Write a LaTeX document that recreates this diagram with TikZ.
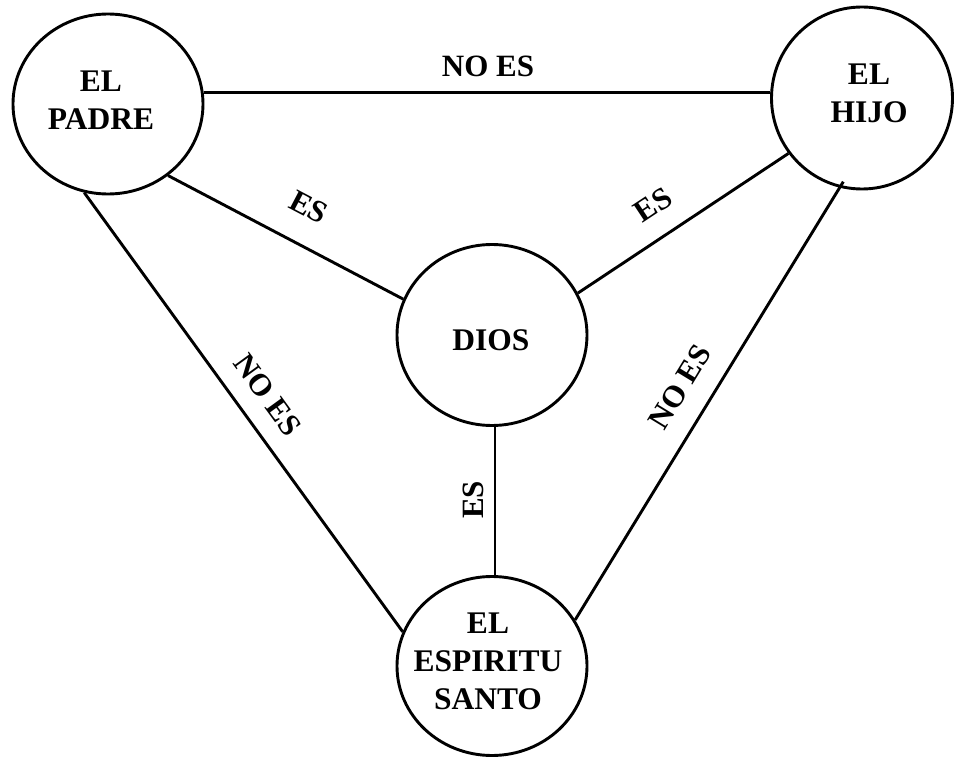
\documentclass[tikz,border=0pt]{standalone}
\usepackage{fontspec}
\setmainfont{Liberation Serif}
\usetikzlibrary{shapes.geometric}
\begin{document}
\begin{tikzpicture}[x=1pt,y=-1pt,
  persona/.style={draw, ellipse, line width=2.9pt, inner sep=0pt},
  nombre/.style={font=\bfseries\fontsize{31.5}{38}\selectfont, align=center, inner sep=0pt},
  enlace/.style={line width=2.9pt},
  rel/.style={font=\bfseries\fontsize{31}{38}\selectfont, inner sep=0pt}]
\useasboundingbox (0,0) rectangle (954,757);
\fill[white] (0,0) rectangle (954,757);

% the four persons / concepts
\node[persona, minimum width=190pt, minimum height=180pt,
      label={[nombre, xshift=-7pt, yshift=4pt]center:EL\\PADRE}] (padre) at (108,104) {};
\node[persona, minimum width=181pt, minimum height=182pt,
      label={[nombre, xshift=7pt, yshift=5pt]center:EL\\HIJO}] (hijo) at (862,98) {};
\node[persona, minimum width=190pt, minimum height=181pt,
      label={[nombre, xshift=-1pt, yshift=-5pt]center:DIOS}] (dios) at (492,335) {};
\node[persona, minimum width=190pt, minimum height=179pt,
      label={[nombre, xshift=-4pt, yshift=5pt]center:EL\\ESPIRITU\\SANTO}] (santo) at (492,666) {};

% connectors
\draw[enlace] (padre.7) -- (padre.7 -| hijo.west);
\draw[enlace] (padre.-50.3) -- (dios.158);
\draw[enlace] (hijo.217.4) -- (dios.26.3);
\draw[enlace, shorten >=-7pt] (santo.29.6) -- (hijo.256);
\draw[enlace] (padre.255.5) -- (santo.159);
\draw[enlace] ([xshift=3pt]dios.south) -- ([xshift=3pt]santo.north);

% relation labels
\node[rel] (noes1) at (488,66) {NO ES};
\node[rel, rotate=-27.7] (es1) at (309,207) {ES};
\node[rel, rotate=33.5] (es2) at (653,205) {ES};
\node[rel, rotate=-54] (noes2) at (268,395) {NO ES};
\node[rel, rotate=58.6] (noes3) at (680,387) {NO ES};
\node[rel, rotate=90] (es3) at (473,500) {ES};
\end{tikzpicture}
\end{document}
